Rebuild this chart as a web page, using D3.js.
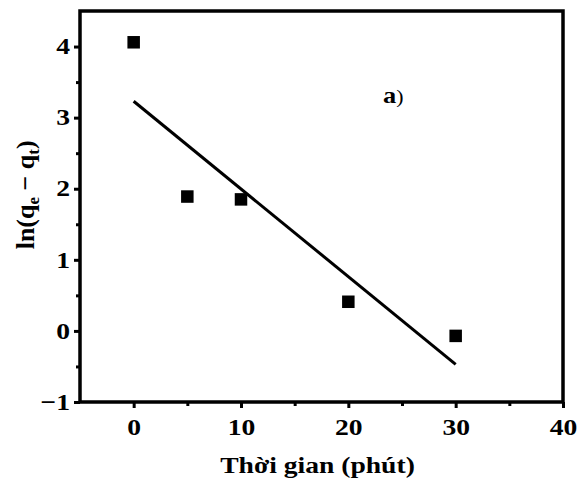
<!DOCTYPE html>
<html>
<head>
<meta charset="utf-8">
<script src="https://d3js.org/d3.v7.min.js"></script>
<style>
  body { margin: 0; background: #fff; }
  text { font-family: "Liberation Serif", "Times New Roman", serif; font-weight: bold; fill: #000; }
</style>
</head>
<body>
<div id="chart"></div>
<script>
// data
var times = [0, 5, 10, 20, 30];
var lnValues = [4.06, 1.89, 1.85, 0.41, -0.07];
var fitX = [0, 30];
var fitY = [3.23, -0.47];
var xTicks = [0, 10, 20, 30, 40];
var yTicks = [-1, 0, 1, 2, 3, 4];

var W = 583, H = 486;
var margin = {top: 11, right: 20, bottom: 84, left: 80};
var width = W - margin.left - margin.right,
    height = H - margin.top - margin.bottom;

// the original picture is a bit wider than tall, so glyphs are stretched sideways
var SX = 1.15;
function stretch(sel) {
  sel.each(function() {
    var t = d3.select(this);
    var ax = +t.attr("x") || 0, ay = +t.attr("y") || 0;
    t.attr("transform", "translate(" + ax + "," + ay + ") scale(" + SX + ",1) translate(" + (-ax) + "," + (-ay) + ")");
  });
}

var svg = d3.select("#chart").append("svg")
    .attr("width", W).attr("height", H)
  .append("g")
    .attr("transform", "translate(" + margin.left + "," + margin.top + ")");

var x = d3.scaleLinear().domain([-5, 40]).range([0, width]);
var y = d3.scaleLinear().domain([-1, 4.5]).range([height, 0]);

// major + minor ticks
var xAxis = d3.axisBottom(x).tickValues(xTicks).tickSize(6).tickPadding(10).tickFormat(d3.format("d"));
var yAxis = d3.axisLeft(y).tickValues(yTicks).tickSize(6).tickPadding(4).tickFormat(d3.format("d"));

var gx = svg.append("g").attr("transform", "translate(0," + height + ")").call(xAxis);
var gy = svg.append("g").call(yAxis);

svg.append("g").attr("transform", "translate(0," + height + ")")
  .call(d3.axisBottom(x).tickValues([5, 15, 25, 35]).tickSize(4).tickFormat(""));
svg.append("g")
  .call(d3.axisLeft(y).tickValues([-0.5, 0.5, 1.5, 2.5, 3.5]).tickSize(4).tickFormat(""));

svg.selectAll(".domain").remove();
svg.selectAll(".tick line").attr("stroke", "#000").attr("stroke-width", 3);
gx.selectAll("text").style("font-size", "24px");
gy.selectAll("text").style("font-size", "24px").attr("dy", "0.3em");
stretch(gx.selectAll("text"));
stretch(gy.selectAll("text"));

// frame
svg.append("rect")
  .attr("x", 0).attr("y", 0)
  .attr("width", width).attr("height", height)
  .attr("fill", "none").attr("stroke", "#000").attr("stroke-width", 3.5);

// fitted line
svg.append("line")
  .attr("x1", x(fitX[0])).attr("y1", y(fitY[0]))
  .attr("x2", x(fitX[1])).attr("y2", y(fitY[1]))
  .attr("stroke", "#000").attr("stroke-width", 3);

// points
var s = 12.5;
svg.selectAll("rect.pt").data(times).enter().append("rect")
  .attr("class", "pt")
  .attr("x", function(d) { return x(d) - s / 2; })
  .attr("y", function(d, i) { return y(lnValues[i]) - s / 2; })
  .attr("width", s).attr("height", s)
  .attr("fill", "#000");

// panel label
var lab = svg.append("text").attr("x", 303).attr("y", 92).style("font-size", "23px");
lab.append("tspan").text("a");
lab.append("tspan").style("font-weight", "normal").style("font-size", "19px").text(")");
stretch(lab);

// axis titles
var xl = svg.append("text")
  .attr("x", 237.5).attr("y", height + 71)
  .attr("text-anchor", "middle")
  .style("font-size", "24px")
  .text("Thời gian (phút)");
stretch(xl);

var yl = svg.append("text")
  .attr("transform", "translate(-46," + (y(1.9) - 1) + ") rotate(-90)")
  .attr("text-anchor", "middle")
  .style("font-size", "26px");
yl.append("tspan").text("ln(q");
yl.append("tspan").attr("dy", 5).style("font-size", "17px").text("e");
yl.append("tspan").attr("dy", -5).text(" \u2212 q");
yl.append("tspan").attr("dy", 5).style("font-size", "17px").text("t");
yl.append("tspan").attr("dy", -5).text(")");
</script>
</body>
</html>
